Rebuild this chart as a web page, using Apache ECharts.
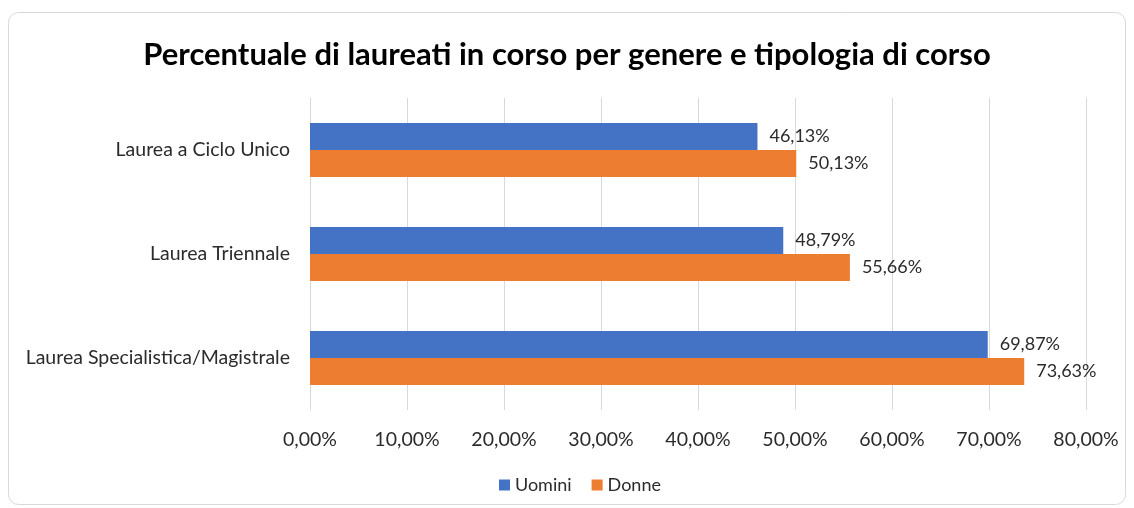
<!DOCTYPE html>
<html><head><meta charset="utf-8">
<script src="https://cdn.jsdelivr.net/npm/echarts@6/dist/echarts.min.js"></script>
<style>html,body{margin:0;padding:0;background:#fff}#c{width:1134px;height:508px}</style>
</head><body><div id="c"></div>
<script>
const categories = ['Laurea a Ciclo Unico', 'Laurea Triennale', 'Laurea Specialistica/Magistrale'];
const uomini = [46.13, 48.79, 69.87];
const donne = [50.13, 55.66, 73.63];
const seriesNames = ['Uomini', 'Donne'];
const xTicks = [0, 10, 20, 30, 40, 50, 60, 70, 80];

const fmt = v => v.toFixed(2).replace('.', ',') + '%';
const font = 'Lato, "Open Sans", sans-serif';
const txt = '#2b2b2b';
const chart = echarts.init(document.getElementById('c'));
chart.setOption({
  animation: false,
  backgroundColor: '#fff',
  graphic: [{type:'rect', shape:{x:8.5,y:12.5,width:1117,height:492,r:10}, style:{fill:'none',stroke:'#d9d9d9',lineWidth:1}, silent:true, z:-1}],
  title: {text:'Percentuale di laureati in corso per genere e tipologia di corso', left:'center', top:34,
    textStyle:{fontFamily:font, fontSize:31, fontWeight:'bold', color:'#000'}},
  legend: {bottom:9, left:494, itemWidth:11, itemHeight:11, itemGap:20, icon:'rect',
    textStyle:{fontFamily:font, fontSize:18, color:txt}, data: seriesNames},
  grid: {left:310, right:48, top:98, bottom:98, containLabel:false},
  xAxis: {type:'value', min:xTicks[0], max:xTicks[xTicks.length-1], interval:10,
    axisLine:{show:false}, axisTick:{show:false},
    splitLine:{lineStyle:{color:'#d9d9d9'}},
    axisLabel:{formatter:v=>fmt(v), margin:20, fontFamily:font, fontSize:19.5, color:txt}},
  yAxis: {type:'category', data:categories, inverse:true,
    axisLine:{lineStyle:{color:'#d9d9d9'}}, axisTick:{show:false},
    axisLabel:{margin:20, fontFamily:font, fontSize:19.5, color:txt}},
  series: [
    {name:seriesNames[0], type:'bar', data:uomini, barGap:'0%', barCategoryGap:'48%',
     itemStyle:{color:'#4472C4'},
     label:{show:true, position:'right', distance:12, formatter:p=>fmt(p.value), fontFamily:font, fontSize:18, color:txt}},
    {name:seriesNames[1], type:'bar', data:donne, barGap:'0%', barCategoryGap:'48%',
     itemStyle:{color:'#ED7D31'},
     label:{show:true, position:'right', distance:12, formatter:p=>fmt(p.value), fontFamily:font, fontSize:18, color:txt}}
  ]
});
</script></body></html>
